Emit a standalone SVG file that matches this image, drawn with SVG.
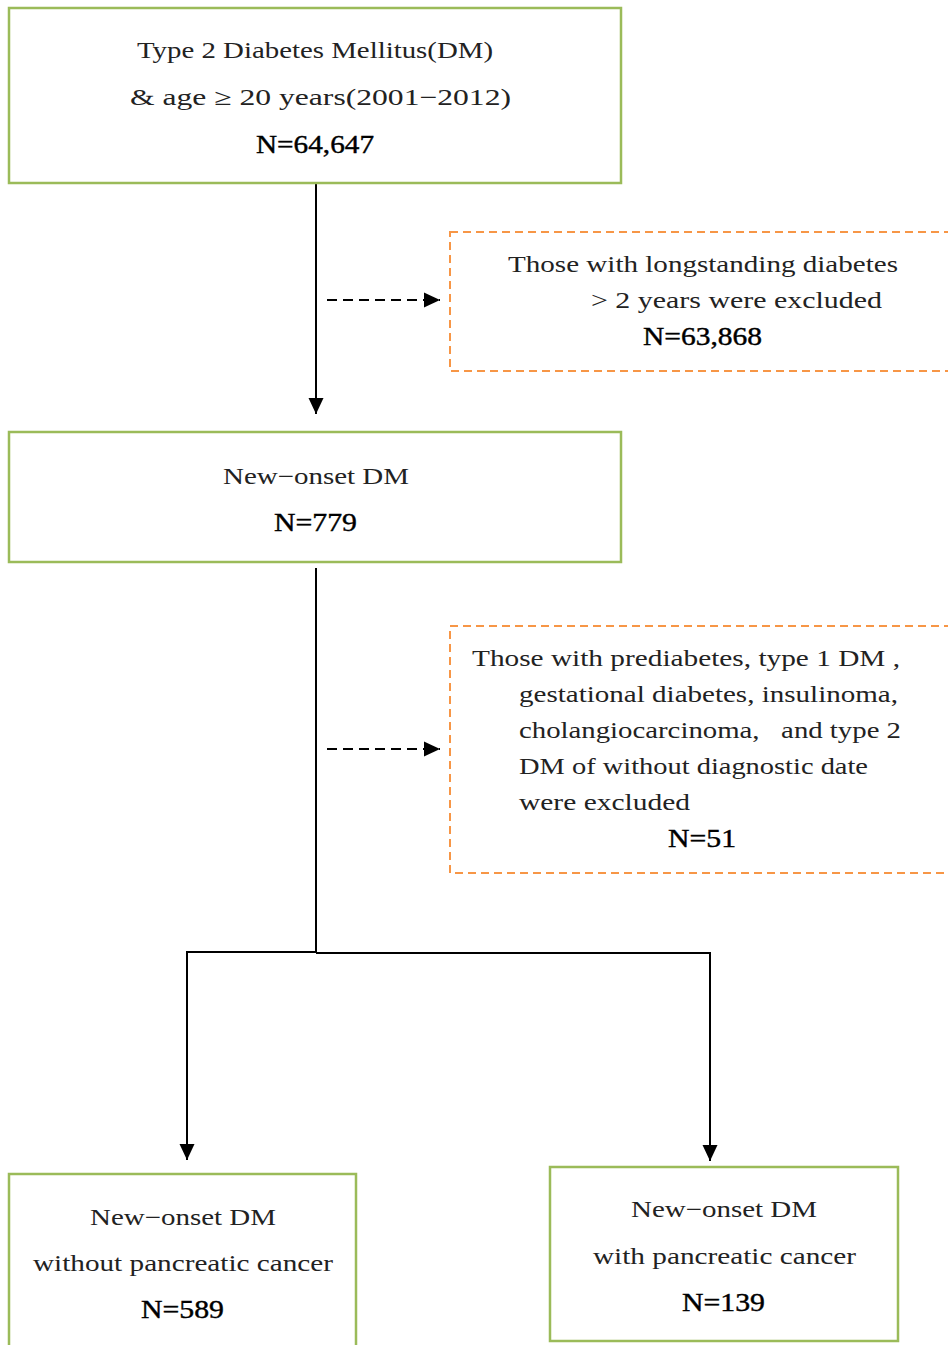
<svg xmlns="http://www.w3.org/2000/svg" width="948" height="1345" viewBox="0 0 948 1345">
<defs>
<marker id="ah" markerWidth="17" markerHeight="17" viewBox="0 0 17 17" refX="16" refY="8.5" orient="auto" markerUnits="userSpaceOnUse">
<path d="M0,1 L16,8.5 L0,16 Z" fill="#000"/>
</marker>
<style>
.box{fill:#fff;stroke:#9BBB59;stroke-width:2.5}
.dbox{fill:#fff;stroke:#F79646;stroke-width:2;stroke-dasharray:8,5}
.t{font-family:"Liberation Serif","DejaVu Serif",serif;font-size:23px;fill:#222}
.n{font-family:"Liberation Serif","DejaVu Serif",serif;font-size:25px;fill:#000;stroke:#000;stroke-width:0.4}
.ln{fill:none;stroke:#000;stroke-width:2}
.dl{fill:none;stroke:#000;stroke-width:2;stroke-dasharray:10,6}
</style>
</defs>
<rect width="948" height="1345" fill="#fff"/>
<g id="connectors">
<path class="ln" d="M316,183 V414" marker-end="url(#ah)"/>
<path class="dl" d="M327,300 H440" marker-end="url(#ah)"/>
<path class="ln" d="M316,568 V952"/>
<path class="dl" d="M327,749 H440" marker-end="url(#ah)"/>
<path class="ln" d="M316,952 H187 V1160" marker-end="url(#ah)"/>
<path class="ln" d="M316,953 H710 V1161" marker-end="url(#ah)"/>
</g>
<g id="node-total">
<rect class="box" x="9" y="8" width="612" height="175"/>
<text class="t" x="137" y="58" textLength="356" lengthAdjust="spacingAndGlyphs">Type 2 Diabetes Mellitus(DM)</text>
<text class="t" x="130" y="105" textLength="381" lengthAdjust="spacingAndGlyphs">&amp; age ≥ 20 years(2001−2012)</text>
<text class="n" x="256" y="153" textLength="118" lengthAdjust="spacingAndGlyphs">N=64,647</text>
</g>
<g id="node-excl1">
<rect class="dbox" x="450" y="232" width="520" height="139"/>
<text class="t" x="508" y="272" textLength="390" lengthAdjust="spacingAndGlyphs">Those with longstanding diabetes</text>
<text class="t" x="591" y="308" textLength="291" lengthAdjust="spacingAndGlyphs">&gt; 2 years were excluded</text>
<text class="n" x="643" y="345" textLength="119" lengthAdjust="spacingAndGlyphs">N=63,868</text>
</g>
<g id="node-newonset">
<rect class="box" x="9" y="432" width="612" height="130"/>
<text class="t" x="223" y="484" textLength="186" lengthAdjust="spacingAndGlyphs">New−onset DM</text>
<text class="n" x="274" y="531" textLength="83" lengthAdjust="spacingAndGlyphs">N=779</text>
</g>
<g id="node-excl2">
<rect class="dbox" x="450" y="626" width="520" height="247"/>
<text class="t" x="472" y="666" textLength="428" lengthAdjust="spacingAndGlyphs">Those with prediabetes, type 1 DM ,</text>
<text class="t" x="519" y="702" textLength="379" lengthAdjust="spacingAndGlyphs">gestational diabetes, insulinoma,</text>
<text class="t" x="519" y="738" textLength="382" lengthAdjust="spacingAndGlyphs" xml:space="preserve">cholangiocarcinoma,   and type 2</text>
<text class="t" x="519" y="774" textLength="349" lengthAdjust="spacingAndGlyphs">DM of without diagnostic date</text>
<text class="t" x="519" y="810" textLength="171" lengthAdjust="spacingAndGlyphs">were excluded</text>
<text class="n" x="668" y="847" textLength="68" lengthAdjust="spacingAndGlyphs">N=51</text>
</g>
<g id="node-without">
<rect class="box" x="9" y="1174" width="347" height="190"/>
<text class="t" x="90" y="1225" textLength="186" lengthAdjust="spacingAndGlyphs">New−onset DM</text>
<text class="t" x="33" y="1271" textLength="300" lengthAdjust="spacingAndGlyphs">without pancreatic cancer</text>
<text class="n" x="141" y="1318" textLength="83" lengthAdjust="spacingAndGlyphs">N=589</text>
</g>
<g id="node-with">
<rect class="box" x="550" y="1167" width="348" height="174"/>
<text class="t" x="631" y="1217" textLength="186" lengthAdjust="spacingAndGlyphs">New−onset DM</text>
<text class="t" x="593" y="1264" textLength="263" lengthAdjust="spacingAndGlyphs">with pancreatic cancer</text>
<text class="n" x="682" y="1311" textLength="83" lengthAdjust="spacingAndGlyphs">N=139</text>
</g>
</svg>
